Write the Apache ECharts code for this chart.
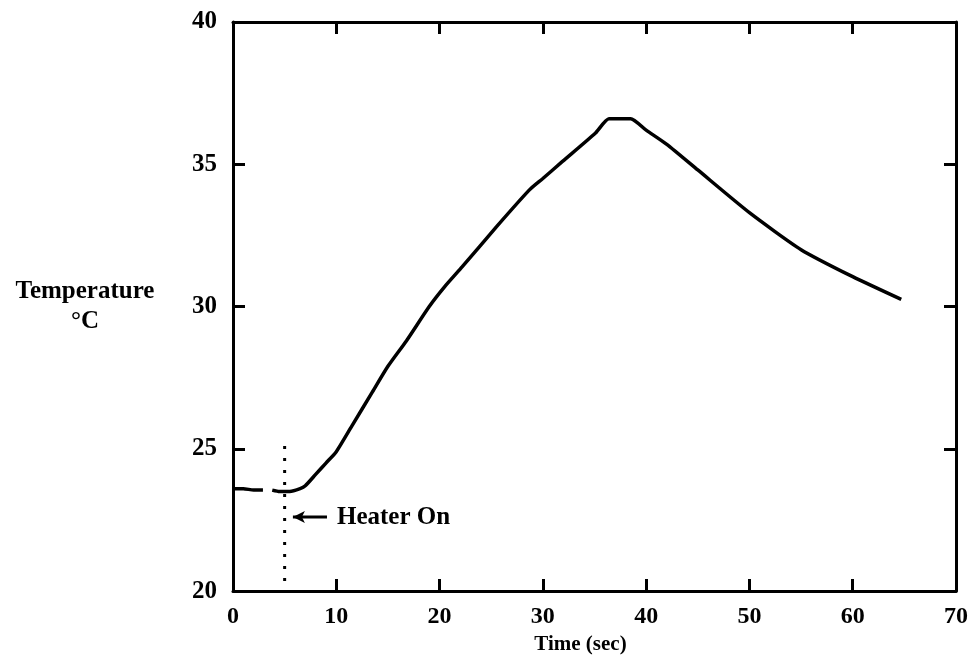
<!DOCTYPE html>
<html>
<head>
<meta charset="utf-8">
<script src="https://cdn.jsdelivr.net/npm/echarts@6/dist/echarts.min.js"></script>
<style>
  html, body { margin: 0; padding: 0; background: #fff; }
  #chart { width: 971px; height: 660px; }
</style>
</head>
<body>
<div id="chart"></div>
<script>
// temperature trace, [time (sec), temperature (°C)], '-' marks the gap in the trace
const tempTrace = [
    [0, 23.6], [1, 23.6], [2, 23.55], [2.9, 23.55], [3.3, '-'],
    [3.8, 23.55], [4.5, 23.5], [5.5, 23.5], [6.5, 23.6], [7, 23.7],
    [8, 24.1], [9, 24.5], [10, 24.9], [11.5, 25.8], [13.5, 27.0],
    [15, 27.9], [16.8, 28.8], [19, 30.0], [20.5, 30.7], [22.2, 31.4],
    [25.5, 32.8], [28.7, 34.1], [30, 34.5], [31.9, 35.1], [35.1, 36.1],
    [36.4, 36.6], [38.5, 36.6], [40, 36.2], [42, 35.7], [45, 34.8],
    [50, 33.3], [55, 32.0], [60, 31.05], [64.7, 30.25]
];
// heater switch-on marker (dotted line) and its annotation arrow
const heaterLine = [[5, 25.1], [5, 20]];
const heaterArrow = [[5.8, 22.6], [9.1, 22.6]];
const heaterLabel = 'Heater On';

const xTicks = { min: 0, max: 70, interval: 10 };
const yTicks = { min: 20, max: 40, interval: 5 };

const font = '"Liberation Serif", "DejaVu Serif", serif';
const axisLine = { show: true, onZero: false, lineStyle: { color: '#000', width: 3 } };
const axisTick = { show: true, inside: true, length: 12, lineStyle: { color: '#000', width: 3 } };

const chart = echarts.init(document.getElementById('chart'));
chart.setOption({
    backgroundColor: '#fff',
    animation: false,
    grid: { left: 233, top: 22, right: 14, bottom: 67 },
    xAxis: [
        {
            type: 'value', position: 'bottom', ...xTicks,
            axisLine, axisTick,
            splitLine: { show: false },
            axisLabel: { color: '#000', fontFamily: font, fontWeight: 'bold', fontSize: 24, margin: 14 },
            name: 'Time (sec)', nameLocation: 'middle', nameGap: 36,
            nameTextStyle: { color: '#000', fontFamily: font, fontWeight: 'bold', fontSize: 21, padding: [0, 28, 0, 0] }
        },
        {
            type: 'value', position: 'top', ...xTicks,
            axisLine, axisTick,
            splitLine: { show: false }, axisLabel: { show: false }
        }
    ],
    yAxis: [
        {
            type: 'value', position: 'left', ...yTicks,
            axisLine, axisTick,
            splitLine: { show: false },
            axisLabel: { color: '#000', fontFamily: font, fontWeight: 'bold', fontSize: 25, margin: 16 },
            name: 'Temperature\n°C', nameLocation: 'middle', nameRotate: 0, nameGap: 148,
            nameTextStyle: { color: '#000', fontFamily: font, fontWeight: 'bold', fontSize: 25, align: 'center', lineHeight: 30 }
        },
        {
            type: 'value', position: 'right', ...yTicks,
            axisLine, axisTick,
            splitLine: { show: false }, axisLabel: { show: false }
        }
    ],
    series: [
        {
            name: 'Temperature', type: 'line', data: tempTrace,
            showSymbol: false, connectNulls: false,
            smooth: 0.2,
            lineStyle: { color: '#000', width: 3.5 }
        },
        {
            name: 'Heater', type: 'line', data: heaterLine,
            showSymbol: false,
            lineStyle: { color: '#000', width: 3, type: [3, 9] }
        },
        {
            name: 'Arrow', type: 'line',
            data: [
                { value: heaterArrow[0], symbol: 'arrow', symbolSize: [9, 12], symbolRotate: 90 },
                { value: heaterArrow[1], symbol: 'none' }
            ],
            showSymbol: true,
            itemStyle: { color: '#000' },
            lineStyle: { color: '#000', width: 3 },
            endLabel: {
                show: true, distance: 10, formatter: heaterLabel,
                color: '#000', fontFamily: font, fontWeight: 'bold', fontSize: 25
            }
        }
    ]
});
</script>
</body>
</html>
